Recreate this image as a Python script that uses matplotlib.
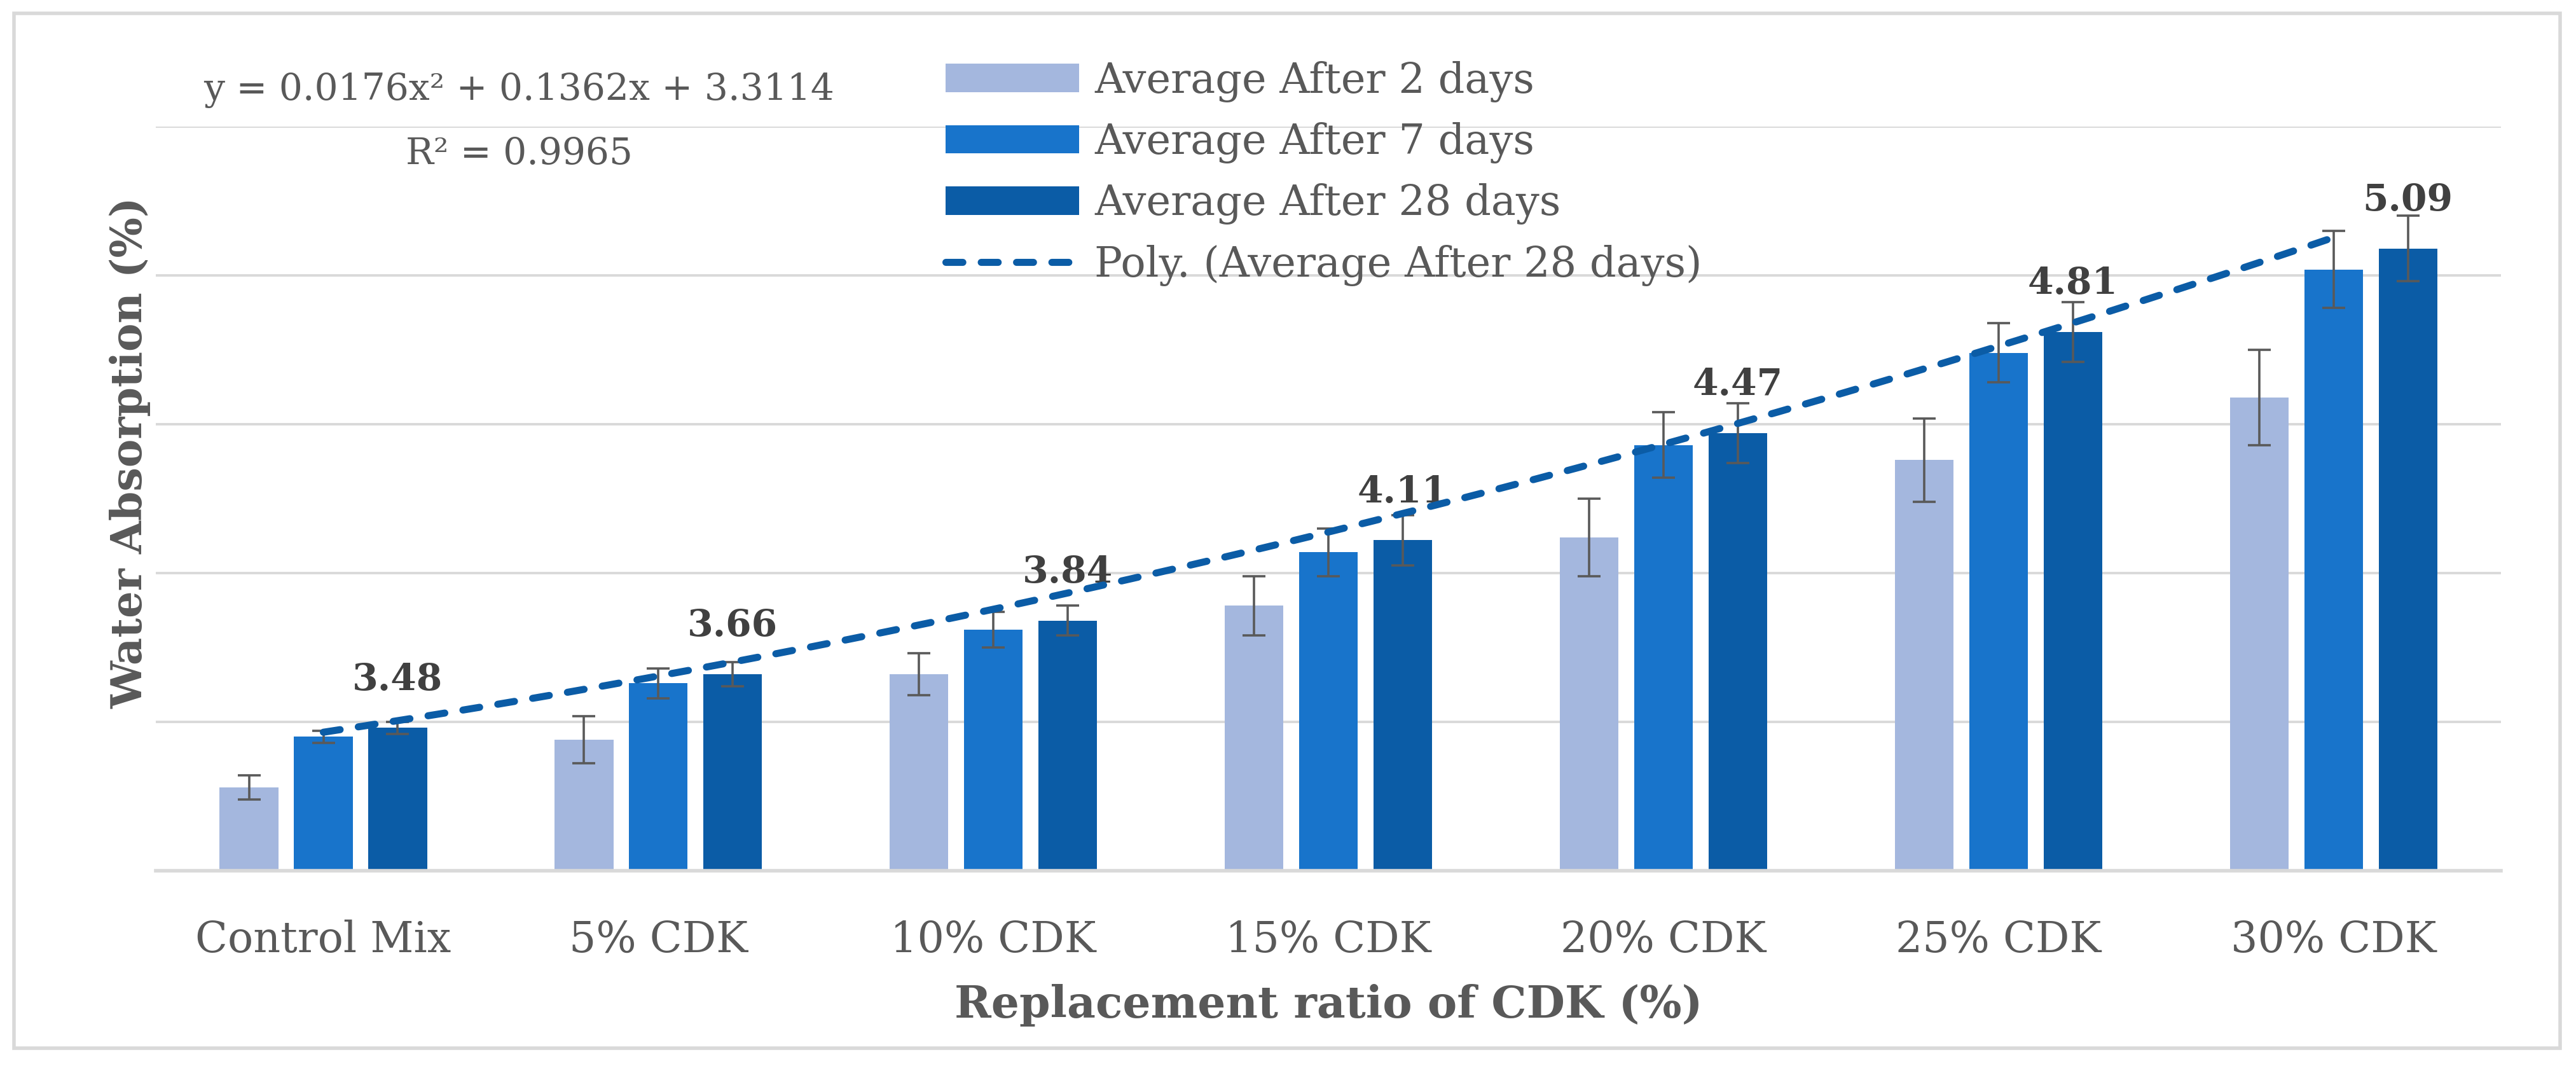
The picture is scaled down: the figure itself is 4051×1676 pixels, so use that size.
import numpy as np
import matplotlib
matplotlib.use("Agg")
import matplotlib.pyplot as plt
from matplotlib.lines import Line2D
from matplotlib.patches import Patch, Rectangle

plt.rcParams['font.family'] = ['DejaVu Serif']

# data
categories = ["Control Mix", "5% CDK", "10% CDK", "15% CDK", "20% CDK", "25% CDK", "30% CDK"]
avg_2d = [3.28, 3.44, 3.66, 3.89, 4.12, 4.38, 4.59]
avg_7d = [3.45, 3.63, 3.81, 4.07, 4.43, 4.74, 5.02]
avg_28d = [3.48, 3.66, 3.84, 4.11, 4.47, 4.81, 5.09]
err_2d = [0.04, 0.08, 0.07, 0.10, 0.13, 0.14, 0.16]
err_7d = [0.02, 0.05, 0.06, 0.08, 0.11, 0.10, 0.13]
err_28d = [0.02, 0.04, 0.05, 0.085, 0.10, 0.10, 0.11]
series_names = ["Average After 2 days", "Average After 7 days", "Average After 28 days"]
trend_name = "Poly. (Average After 28 days)"
poly_coef = [0.0176, 0.1362, 3.3114]   # y = a x^2 + b x + c, x = 1..7
eq_text = "y = 0.0176x² + 0.1362x + 3.3114"
r2_text = "R² = 0.9965"

colors = ["#A4B7DE", "#1874CB", "#0B5CA6"]
gray = "#595959"

fig = plt.figure(figsize=(40.51, 16.76), dpi=100)
ax = fig.add_axes([0.0605, 0.1832, 0.9104, 0.6981])

x = np.arange(len(categories))
offsets = [-0.222, 0.0, 0.222]
width = 0.175
ek = dict(ecolor=gray, elinewidth=2.6, capsize=13, capthick=2.6, zorder=3)

handles = []
for vals, errs, col, name, off in zip([avg_2d, avg_7d, avg_28d], [err_2d, err_7d, err_28d],
                                      colors, series_names, offsets):
    ax.bar(x + off, vals, width=width, color=col, yerr=errs, error_kw=ek, zorder=2)
    handles.append(Patch(facecolor=col, label=name))

# polynomial trendline of the 28-day series
xs = np.linspace(1, 7, 200)
trend, = ax.plot(xs - 1, np.polyval(poly_coef, xs), color="#0B5CA6", lw=8,
                 dash_capstyle='round', zorder=4)
trend.set_dashes([2.4, 2.6])
lh = Line2D([0], [0], color="#0B5CA6", lw=8, dash_capstyle='round', label=trend_name)
lh.set_dashes([2.4, 2.6])
handles.append(lh)

# data labels on the 28-day bars
for xi, v in zip(x, avg_28d):
    ax.annotate(f"{v:.2f}", (xi + offsets[2], v), xytext=(0, 43), textcoords='offset points',
                ha='center', va='baseline', fontsize=42, fontweight='bold', color='#404040')

ax.set_xlim(-0.5, 6.5)
ax.set_ylim(3.0, 5.5)
ax.set_yticks(np.arange(3.0, 5.51, 0.5))
ax.yaxis.grid(True, color="#D9D9D9", lw=2.8, zorder=0)
ax.set_axisbelow(True)
ax.tick_params(axis='y', length=0, labelleft=False)
ax.set_xticks(x, categories)
ax.tick_params(axis='x', length=0, pad=55, labelsize=48, labelcolor=gray)
for s in ['left', 'right', 'top']:
    ax.spines[s].set_visible(False)
ax.spines['bottom'].set_color("#D9D9D9")
ax.spines['bottom'].set_linewidth(4)

ax.set_xlabel("Replacement ratio of CDK (%)", fontsize=50, fontweight='bold', color=gray)
ax.xaxis.set_label_coords(0.5, -0.152)
ax.set_ylabel("Water Absorption (%)", fontsize=48, fontweight='bold', color=gray)
ax.yaxis.set_label_coords(-0.002, 0.562)

fig.legend(handles=handles, loc='upper left', bbox_to_anchor=(0.367, 0.943),
           frameon=False, fontsize=47, labelcolor=gray, handlelength=3.22,
           handleheight=0.67, handletextpad=0.37, labelspacing=0.48,
           borderpad=0, borderaxespad=0)

fig.text(816 / 4051, 1 - 142 / 1676, eq_text, ha='center', va='center', fontsize=42, color=gray)
fig.text(816 / 4051, 1 - 242 / 1676, r2_text, ha='center', va='center', fontsize=42, color=gray)

# chart area border
fig.patches.append(Rectangle((0.0054, 0.0167), 0.9884, 0.9708, transform=fig.transFigure,
                             fill=False, edgecolor="#D9D9D9", lw=4))

fig.savefig("out.png", dpi=100)
